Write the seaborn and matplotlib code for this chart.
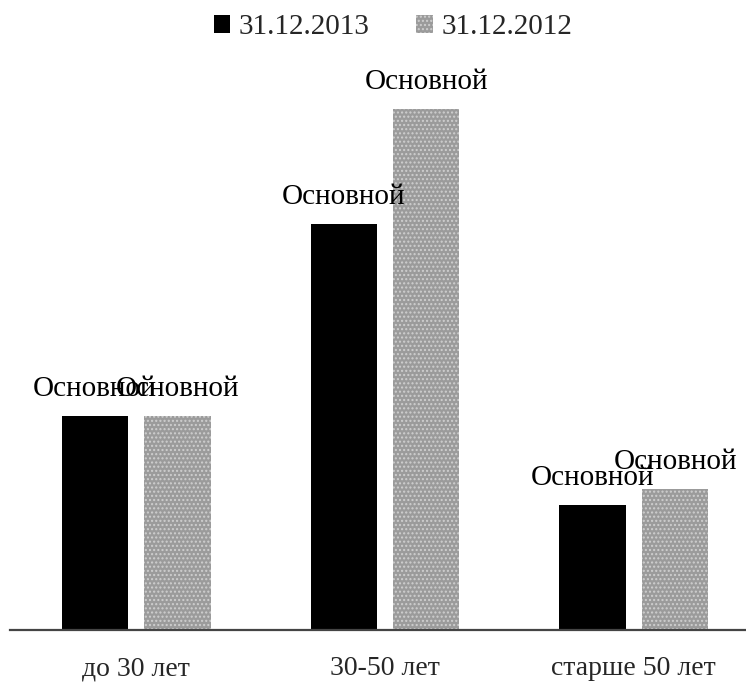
import pandas as pd
import matplotlib.pyplot as plt
import seaborn as sns

# данные
groups = ['до 30 лет', '30-50 лет', 'старше 50 лет']
series = ['31.12.2013', '31.12.2012']
vals_2013 = [41, 78, 24]
vals_2012 = [41, 100, 27]
bar_text = 'Основной'

df = pd.DataFrame({
    'group': groups * 2,
    'date': [series[0]] * 3 + [series[1]] * 3,
    'value': vals_2013 + vals_2012,
})

sns.set_style('white')
plt.rcParams['font.family'] = ['Liberation Serif', 'DejaVu Serif']

fig = plt.figure(figsize=(7.46, 6.84), dpi=100)
ax = fig.add_axes([10 / 746, 54 / 684, 736 / 746, 570 / 684])

sns.barplot(data=df, x='group', y='value', hue='date', hue_order=series,
            palette=['#000000', '#9b9b9b'], saturation=1, width=0.665,
            gap=0.2, linewidth=0, legend=False, ax=ax)

# серые столбцы с "растровой" текстурой
for p in ax.containers[1]:
    p.set_hatch('....')
    p.set_edgecolor('#cfcfcf')
    p.set_linewidth(0)

for cont in ax.containers:
    ax.bar_label(cont, labels=[bar_text] * len(cont), padding=10,
                 fontsize=21, color='black')

ax.set_xlim(-0.507, 2.451)
ax.set_ylim(0, 109.4)
ax.set_xlabel('')
ax.set_ylabel('')
ax.set_yticks([])
ax.tick_params(axis='x', length=0, pad=19, labelsize=20)
for s in ['top', 'right', 'left']:
    ax.spines[s].set_visible(False)
ax.spines['bottom'].set_color('#444444')
ax.spines['bottom'].set_linewidth(1.6)

ax.legend(ax.containers, series, loc='center', bbox_to_anchor=(0.527, 0.96),
          bbox_transform=fig.transFigure, ncol=2, frameon=False,
          fontsize=21, handlelength=0.55, handleheight=0.55,
          handletextpad=0.3, columnspacing=1.6)

fig.savefig('out.png', dpi=100)
